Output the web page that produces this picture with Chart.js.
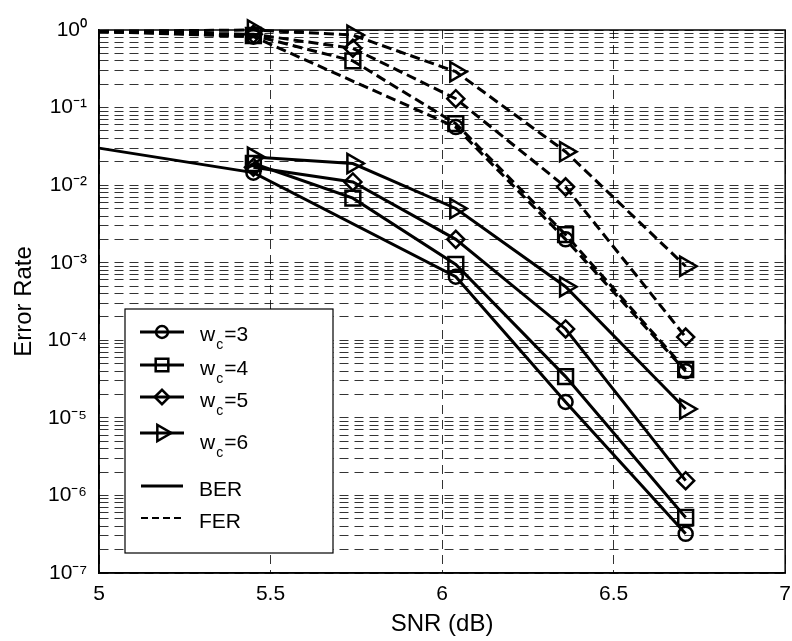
<!DOCTYPE html>
<html lang="en">
<head>
<meta charset="UTF-8">
<title>Error Rate vs SNR</title>
<script src="https://cdn.jsdelivr.net/npm/chart.js"></script>
<style>
  body { margin: 0; overflow: hidden; background: #fff; }
</style>
</head>
<body>
<canvas id="errChart" width="800" height="641"></canvas>
<script>
// SNR points (dB)
const snr = [5, 5.45, 5.74, 6.04, 6.36, 6.71];

// bit error rate for each column weight w_c (null = no point there)
const ber3 = [0.030, 0.0145, null, 0.00066, 1.6e-5, 3.2e-7];
const ber4 = [null, 0.019, 0.0068, 0.00095, 3.4e-5, 5.2e-7];
const ber5 = [null, 0.017, 0.011, 0.0020, 0.00014, 1.55e-6];
const ber6 = [null, 0.023, 0.019, 0.0050, 0.00049, 1.3e-5];

// frame error rate
const fer3 = [0.96, 0.82, null, 0.056, 0.0020, 4.0e-5];
const fer4 = [0.96, 0.85, 0.40, 0.062, 0.0023, 4.2e-5];
const fer5 = [0.96, 0.88, 0.58, 0.13, 0.0095, 0.00011];
const fer6 = [0.96, 1.0, 0.86, 0.29, 0.027, 0.00090];

const weights = [3, 4, 5, 6];

// axis ticks
const xTicks = [5, 5.5, 6, 6.5, 7];
const yDecades = [-7, -6, -5, -4, -3, -2, -1, 0];
const yMinor = [2, 3, 4, 5, 6, 7, 8, 9];

const FONT = '"Liberation Sans", Arial, Helvetica, sans-serif';

// marker look per weight
const markers = [
    { pointStyle: 'circle', rotation: 0, radius: 7 },
    { pointStyle: 'rect', rotation: 0, radius: 10.5 },
    { pointStyle: 'rectRot', rotation: 0, radius: 8.5 },
    { pointStyle: 'triangle', rotation: 90, radius: 11 }
];

function toPoints(vals) {
    return snr.map((x, i) => ({ x: x, y: vals[i] })).filter(p => p.y !== null);
}

function makeSet(label, vals, m, dashed) {
    return {
        label: label,
        data: toPoints(vals),
        borderColor: '#000',
        backgroundColor: 'rgba(0,0,0,0)',
        borderWidth: 3,
        borderDash: dashed ? [10, 5] : [],
        pointStyle: m.pointStyle,
        rotation: m.rotation,
        // no marker at the left edge (curve comes in from lower SNR)
        pointRadius: ctx => (ctx.raw && ctx.raw.x === snr[0]) ? 0 : m.radius,
        pointBorderWidth: 2.5,
        pointBorderColor: '#000',
        pointBackgroundColor: 'rgba(0,0,0,0)',
        spanGaps: true,
        tension: 0,
        clip: false
    };
}

const berSets = [ber3, ber4, ber5, ber6];
const ferSets = [fer3, fer4, fer5, fer6];
const datasets = [];
weights.forEach((w, i) => {
    datasets.push(makeSet('FER w_c=' + w, ferSets[i], markers[i], true));
    datasets.push(makeSet('BER w_c=' + w, berSets[i], markers[i], false));
});

const yTickValues = [];
yDecades.forEach(e => {
    yTickValues.push(Math.pow(10, e));
    if (e < 0) yMinor.forEach(m => yTickValues.push(m * Math.pow(10, e)));
});

const supMap = { '-': '\u207B', '0': '\u2070', '1': '\u00B9', '2': '\u00B2', '3': '\u00B3',
    '4': '\u2074', '5': '\u2075', '6': '\u2076', '7': '\u2077', '8': '\u2078', '9': '\u2079' };
function sup(n) { return String(n).split('').map(c => supMap[c]).join(''); }

function drawMarker(ctx, m, x, y) {
    ctx.save();
    ctx.fillStyle = 'rgba(0,0,0,0)';
    ctx.strokeStyle = '#000';
    ctx.lineWidth = 2.5;
    ctx.setLineDash([]);
    Chart.helpers.drawPoint(ctx, { pointStyle: m.pointStyle, rotation: m.rotation, radius: m.radius * 0.85, borderWidth: 2.5 }, x, y);
    ctx.restore();
}

const frameAndLegend = {
    id: 'frameAndLegend',
    afterDraw(chart) {
        const { ctx, chartArea: a } = chart;
        ctx.save();
        ctx.setLineDash([]);
        ctx.strokeStyle = '#000';
        ctx.lineWidth = 1.5;
        ctx.strokeRect(a.left, a.top, a.right - a.left, a.bottom - a.top);

        // legend box
        const bx = 125, by = 309, bw = 208, bh = 244;
        ctx.fillStyle = '#fff';
        ctx.fillRect(bx, by, bw, bh);
        ctx.lineWidth = 1.2;
        ctx.strokeRect(bx, by, bw, bh);

        const rowsY = [332, 365, 397, 433];
        const textOff = [9, 10, 10, 16];
        weights.forEach((w, i) => {
            const y = rowsY[i];
            ctx.lineWidth = 3;
            ctx.setLineDash([]);
            ctx.beginPath();
            ctx.moveTo(140, y);
            ctx.lineTo(184, y);
            ctx.stroke();
            drawMarker(ctx, markers[i], 162, y);
            ctx.fillStyle = '#000';
            ctx.textBaseline = 'alphabetic';
            ctx.textAlign = 'left';
            const base = y + textOff[i];
            ctx.font = '21px ' + FONT;
            ctx.fillText('w', 200, base);
            let tx = 200 + ctx.measureText('w').width + 1;
            ctx.font = '14px ' + FONT;
            ctx.fillText('c', tx, base + 8);
            tx += ctx.measureText('c').width + 1;
            ctx.font = '21px ' + FONT;
            ctx.fillText('=' + w, tx, base);
        });

        const styleRows = [
            { label: 'BER', y: 486, dash: [] },
            { label: 'FER', y: 518, dash: [7, 4] }
        ];
        styleRows.forEach(r => {
            ctx.lineWidth = r.dash.length ? 2 : 3;
            ctx.setLineDash(r.dash);
            ctx.beginPath();
            ctx.moveTo(141, r.y);
            ctx.lineTo(183, r.y);
            ctx.stroke();
            ctx.setLineDash([]);
            ctx.font = '21px ' + FONT;
            ctx.fillText(r.label, 199, r.y + 10);
        });
        ctx.restore();
    }
};

const ctx = document.getElementById('errChart').getContext('2d');
new Chart(ctx, {
    type: 'line',
    data: { datasets: datasets },
    options: {
        responsive: false,
        animation: false,
        layout: { padding: { top: 30, right: 9, left: 0, bottom: 0 } },
        plugins: {
            legend: { display: false },
            tooltip: { enabled: false }
        },
        scales: {
            x: {
                type: 'linear',
                min: 5,
                max: 7,
                afterBuildTicks: s => { s.ticks = xTicks.map(v => ({ value: v })); },
                afterFit: s => { s.height = 68; },
                ticks: {
                    color: '#000',
                    font: { family: FONT, size: 21 },
                    padding: 9,
                    callback: v => String(v)
                },
                grid: { color: 'rgba(0,0,0,0.8)', lineWidth: 1, drawTicks: false },
                border: { display: true, color: '#000', width: 1.5, dash: [9, 6] },
                title: {
                    display: true,
                    text: 'SNR (dB)',
                    color: '#000',
                    font: { family: FONT, size: 24 },
                    padding: { top: 0, bottom: 2 }
                }
            },
            y: {
                type: 'logarithmic',
                min: 1e-7,
                max: 1,
                afterBuildTicks: s => { s.ticks = yTickValues.map(v => ({ value: v })); },
                afterFit: s => { s.width = 99; },
                ticks: {
                    color: '#000',
                    font: { family: FONT, size: 21 },
                    padding: 12,
                    autoSkip: false,
                    callback: v => {
                        const e = Math.log10(v);
                        if (Math.abs(e - Math.round(e)) < 1e-9) return '10' + sup(Math.round(e));
                        return '';
                    }
                },
                grid: { color: 'rgba(0,0,0,0.8)', lineWidth: 1, drawTicks: false },
                border: { display: true, color: '#000', width: 1.5, dash: [9, 6] },
                title: {
                    display: true,
                    text: 'Error Rate',
                    color: '#000',
                    font: { family: FONT, size: 24 },
                    padding: { top: 10, bottom: 0 }
                }
            }
        }
    },
    plugins: [frameAndLegend]
});
</script>
</body>
</html>
